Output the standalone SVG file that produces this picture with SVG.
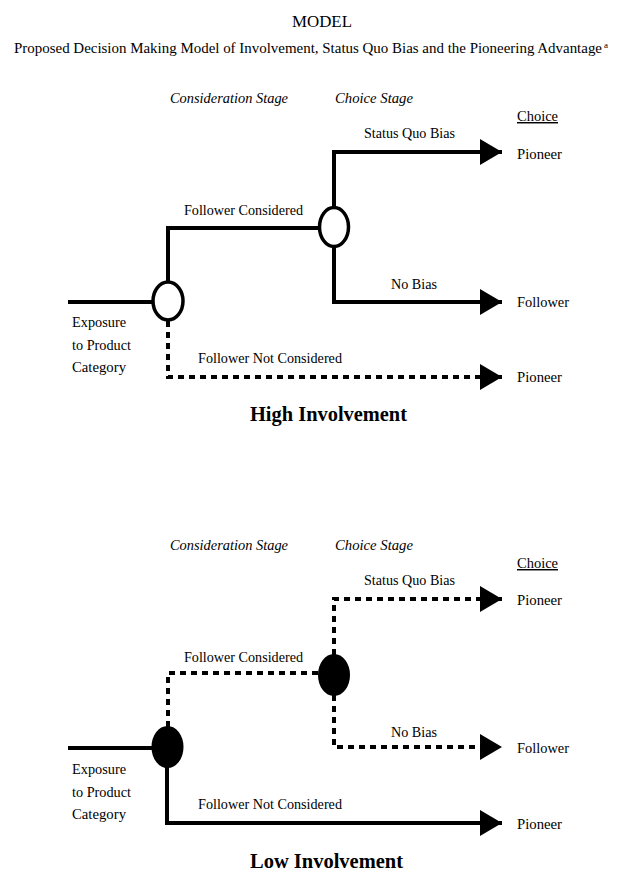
<svg xmlns="http://www.w3.org/2000/svg" width="640" height="886" viewBox="0 0 640 886">
<style>
text{font-family:"Liberation Serif","Times New Roman",serif;fill:#000;font-size:14.5px}
.title{font-size:17px}
.sub{font-size:15px}
.it{font-style:italic;font-size:14.5px}
.big{font-size:21px;font-weight:bold}
.solid{fill:none;stroke:#000;stroke-width:4}
.dash{fill:none;stroke:#000;stroke-width:4;stroke-dasharray:6 5}
.open{fill:#fff;stroke:#000;stroke-width:3.5}
.fill{fill:#000;stroke:#000;stroke-width:2}
</style>
<defs>
<marker id="ah" markerUnits="userSpaceOnUse" markerWidth="24" markerHeight="26" refX="22" refY="13" orient="auto">
<path d="M0,0 L22,13 L0,26 Z" fill="#000"/>
</marker>
</defs>
<rect width="640" height="886" fill="#fff"/>
<text x="322" y="27" text-anchor="middle" class="title" textLength="60" lengthAdjust="spacingAndGlyphs">MODEL</text>
<text x="14" y="53" class="sub"><tspan textLength="588" lengthAdjust="spacingAndGlyphs">Proposed Decision Making Model of Involvement, Status Quo Bias and the Pioneering Advantage</tspan><tspan dx="2" dy="-5" style="font-size:9px">a</tspan></text>

<g id="high">
<text x="170" y="103" class="it" textLength="118" lengthAdjust="spacingAndGlyphs">Consideration Stage</text>
<text x="335" y="103" class="it" textLength="78" lengthAdjust="spacingAndGlyphs">Choice Stage</text>
<text x="517" y="121" textLength="41" lengthAdjust="spacingAndGlyphs" text-decoration="underline">Choice</text>
<g id="connectors-high">
<path class="solid" d="M68,302 H153"/>
<path class="solid" d="M168,282 V228 H320"/>
<path class="solid" d="M334,207 V152 H502" marker-end="url(#ah)"/>
<path class="solid" d="M334,247 V302 H502" marker-end="url(#ah)"/>
<path class="dash" d="M168,321 V377 H502" marker-end="url(#ah)"/>
</g>
<g id="h-node1"><ellipse class="open" cx="168" cy="301" rx="15" ry="19"/></g>
<g id="h-node2"><ellipse class="open" cx="334" cy="227" rx="14.5" ry="19.5"/></g>
<text x="364" y="138" textLength="91" lengthAdjust="spacingAndGlyphs">Status Quo Bias</text>
<text x="517" y="159" textLength="45" lengthAdjust="spacingAndGlyphs">Pioneer</text>
<text x="184" y="215" textLength="119" lengthAdjust="spacingAndGlyphs">Follower Considered</text>
<text x="391" y="289" textLength="46" lengthAdjust="spacingAndGlyphs">No Bias</text>
<text x="517" y="307" textLength="52" lengthAdjust="spacingAndGlyphs">Follower</text>
<text x="72" y="327" textLength="54" lengthAdjust="spacingAndGlyphs">Exposure</text>
<text x="72" y="350" textLength="59" lengthAdjust="spacingAndGlyphs">to Product</text>
<text x="72" y="372" textLength="54" lengthAdjust="spacingAndGlyphs">Category</text>
<text x="198" y="363" textLength="144" lengthAdjust="spacingAndGlyphs">Follower Not Considered</text>
<text x="517" y="382" textLength="45" lengthAdjust="spacingAndGlyphs">Pioneer</text>
<text x="250" y="421" class="big" textLength="157" lengthAdjust="spacingAndGlyphs">High  Involvement</text>
</g>

<g id="low">
<text x="170" y="550" class="it" textLength="118" lengthAdjust="spacingAndGlyphs">Consideration Stage</text>
<text x="335" y="550" class="it" textLength="78" lengthAdjust="spacingAndGlyphs">Choice Stage</text>
<text x="517" y="568" textLength="41" lengthAdjust="spacingAndGlyphs" text-decoration="underline">Choice</text>
<g id="connectors-low">
<path class="solid" d="M68,748 H153"/>
<path class="dash" d="M168,727 V673 H320"/>
<path class="dash" d="M334,655 V599 H502" marker-end="url(#ah)"/>
<path class="dash" d="M334,695 V747 H502" marker-end="url(#ah)"/>
<path class="solid" d="M167,767 V823 H502" marker-end="url(#ah)"/>
</g>
<g id="l-node1"><ellipse class="fill" cx="167.5" cy="747" rx="15" ry="20"/></g>
<g id="l-node2"><ellipse class="fill" cx="334" cy="675" rx="15" ry="20"/></g>
<text x="364" y="585" textLength="91" lengthAdjust="spacingAndGlyphs">Status Quo Bias</text>
<text x="517" y="605" textLength="45" lengthAdjust="spacingAndGlyphs">Pioneer</text>
<text x="184" y="662" textLength="119" lengthAdjust="spacingAndGlyphs">Follower Considered</text>
<text x="391" y="737" textLength="46" lengthAdjust="spacingAndGlyphs">No Bias</text>
<text x="517" y="753" textLength="52" lengthAdjust="spacingAndGlyphs">Follower</text>
<text x="72" y="774" textLength="54" lengthAdjust="spacingAndGlyphs">Exposure</text>
<text x="72" y="797" textLength="59" lengthAdjust="spacingAndGlyphs">to Product</text>
<text x="72" y="819" textLength="54" lengthAdjust="spacingAndGlyphs">Category</text>
<text x="198" y="809" textLength="144" lengthAdjust="spacingAndGlyphs">Follower Not Considered</text>
<text x="517" y="829" textLength="45" lengthAdjust="spacingAndGlyphs">Pioneer</text>
<text x="250" y="868" class="big" textLength="153" lengthAdjust="spacingAndGlyphs">Low  Involvement</text>
</g>
</svg>
